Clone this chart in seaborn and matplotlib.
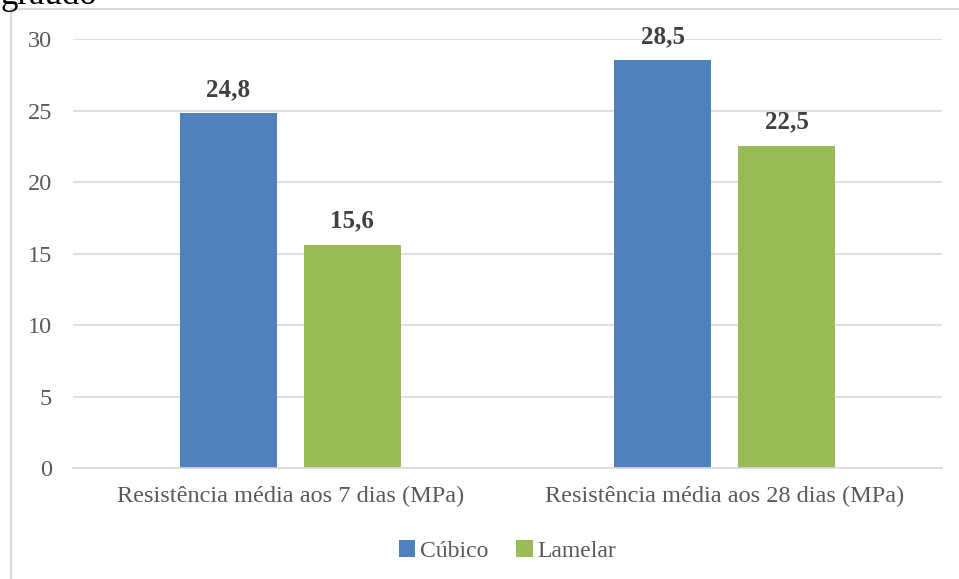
import matplotlib
matplotlib.use("Agg")
import matplotlib.pyplot as plt
from matplotlib.patches import Rectangle
import seaborn as sns
import pandas as pd

categories = ["Resistência média aos 7 dias (MPa)", "Resistência média aos 28 dias (MPa)"]
series_names = ["Cúbico", "Lamelar"]
cubico = [24.8, 28.5]
lamelar = [15.6, 22.5]
yticks = [0, 5, 10, 15, 20, 25, 30]
colors = ["#4F81BD", "#9BBB59"]

df = pd.DataFrame({
    "categoria": categories * 2,
    "serie": [series_names[0]] * 2 + [series_names[1]] * 2,
    "valor": cubico + lamelar,
})

sns.set_style("white")
plt.rcParams["font.family"] = ["Liberation Serif", "DejaVu Serif"]

fig = plt.figure(figsize=(9.59, 5.79), dpi=100)
ax = fig.add_axes([0.0761, 0.1917, 0.9062, 0.7409])

sns.barplot(data=df, x="categoria", y="valor", hue="serie", palette=colors,
            width=0.571, gap=0.218, saturation=1, ax=ax, legend=True,
            errorbar=None, linewidth=0)

ax.set_ylim(0, 30)
ax.set_xlim(-0.5, 1.5)
ax.set_yticks(yticks)
ax.set_yticklabels([str(t) for t in yticks])
ax.grid(axis="y", color="#d9d9d9", linewidth=1.2)
ax.set_axisbelow(True)
for s in ["top", "right", "left"]:
    ax.spines[s].set_visible(False)
ax.spines["bottom"].set_color("#d9d9d9")
ax.spines["bottom"].set_linewidth(1.2)
ax.tick_params(axis="both", length=0, labelsize=17.5, colors="#595959")
ax.tick_params(axis="x", pad=13)
ax.tick_params(axis="y", pad=15)
ax.set_xlabel("")
ax.set_ylabel("")

for cont in ax.containers:
    ax.bar_label(cont, labels=[f"{v:.1f}".replace(".", ",") for v in cont.datavalues],
                 padding=9, fontsize=18, fontweight="bold", color="#404040")

handles, labels = ax.get_legend_handles_labels()
ax.legend(handles, labels, loc="center", bbox_to_anchor=(0.5, -0.194), ncol=2,
          frameon=False, fontsize=17, handlelength=0.7, handleheight=0.7,
          handletextpad=0.2, columnspacing=1.2, labelcolor="#595959")

# outer frame of the chart area
fig.patches.append(Rectangle((11 / 959, -0.05), 1.2, 1 - 9 / 579 + 0.05,
                             transform=fig.transFigure, fill=False,
                             edgecolor="#d9d9d9", linewidth=1.5))
fig.text(0.0, 1 - 4 / 579, "graúdo", fontsize=25, color="black",
         ha="left", va="baseline")

fig.savefig("out.png", dpi=100)
